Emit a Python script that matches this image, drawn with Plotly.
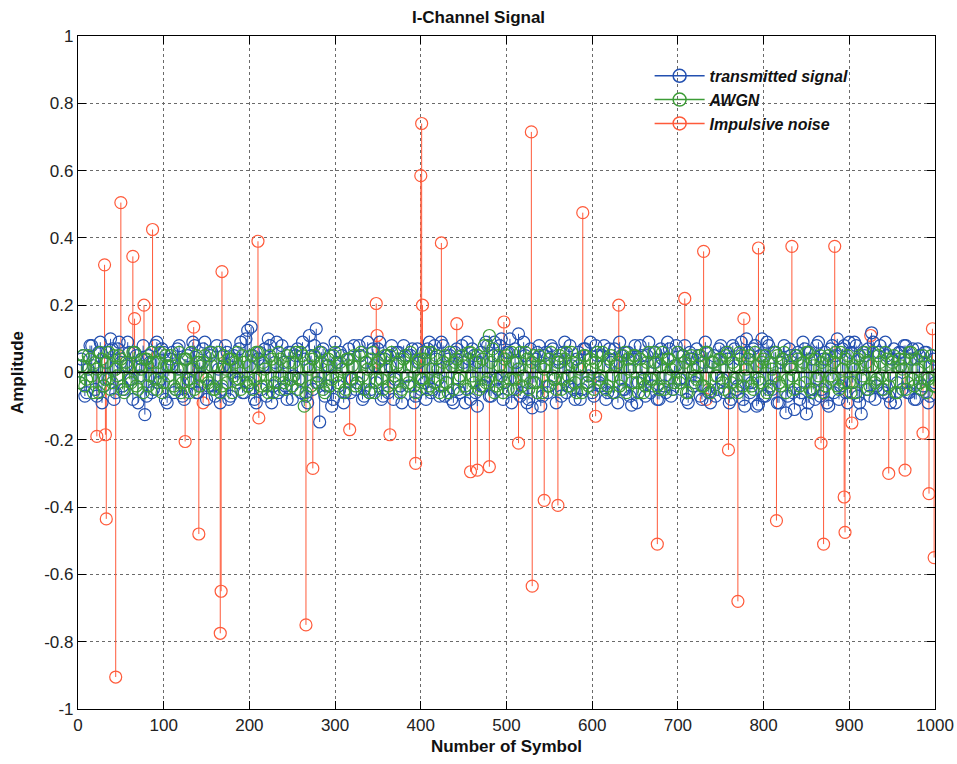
import plotly.graph_objects as go

# ---------------- data ----------------
# transmitted signal, read in two interleaved passes (symbols 2,6,10,... and 4,8,12,...)
blue_symbols_a = list(range(2, 1001, 4))
blue_values_a = [
    -0.03, 0.05, -0.06, 0.08, 0.02, -0.07, 0.09, -0.04, 0.06, 0.10,
    -0.08, 0.07, 0.03, -0.05, 0.09, -0.02, 0.06, -0.09, 0.04, -0.125,
    0.05, -0.06, 0.08, -0.03, 0.07, -0.08, 0.02, 0.06, -0.05, 0.08,
    -0.07, 0.04, -0.02, 0.09, -0.06, 0.03, 0.07, -0.08, 0.05, -0.04,
    0.08, -0.09, 0.02, 0.06, -0.07, 0.05, -0.03, 0.09, -0.06, 0.125,
    0.135, -0.08, 0.04, -0.05, 0.07, 0.10, -0.09, 0.03, -0.06, 0.08,
    -0.04, 0.06, -0.08, 0.05, -0.02, 0.09, -0.07, 0.11, -0.05, 0.13,
    -0.147, 0.07, -0.04, 0.05, -0.08, 0.03, 0.06, -0.09, 0.04, -0.06,
    0.08, -0.03, 0.05, -0.07, 0.09, -0.05, 0.02, 0.07, -0.08, 0.04,
    -0.06, 0.08, -0.02, 0.06, -0.09, 0.05, -0.04, 0.07, -0.07, 0.03,
    0.06, -0.08, 0.09, -0.05, 0.04, -0.07, 0.08, -0.03, 0.05, -0.09,
    0.07, -0.06, 0.03, 0.09, -0.08, 0.05, -0.10, 0.06, -0.04, 0.08,
    -0.07, 0.09, -0.05, 0.10, -0.03, 0.06, -0.09, 0.07, 0.115, -0.06,
    0.05, -0.08, -0.105, 0.04, 0.08, -0.07, 0.06, -0.04, 0.07, -0.09,
    0.03, 0.06, -0.06, 0.08, -0.05, 0.04, -0.08, 0.07, -0.03, 0.09,
    -0.07, 0.05, -0.04, 0.08, -0.06, 0.03, 0.07, -0.09, 0.05, -0.05,
    0.06, -0.097, 0.08, -0.03, 0.05, -0.07, 0.09, -0.04, 0.06, -0.08,
    0.04, -0.06, 0.07, -0.05, 0.08, -0.02, 0.05, -0.08, 0.06, -0.04,
    0.07, -0.07, 0.03, 0.06, -0.09, 0.05, -0.05, 0.08, -0.06, 0.04,
    -0.08, 0.07, -0.04, 0.09, -0.10, 0.06, -0.03, 0.08, -0.094, 0.10,
    -0.07, 0.08, -0.05, 0.06, -0.09, 0.04, -0.12, 0.07, -0.06, 0.05,
    -0.08, 0.09, -0.123, 0.06, -0.05, 0.08, -0.07, 0.04, -0.09, 0.07,
    -0.06, 0.10, -0.04, 0.08, -0.09, 0.06, 0.09, -0.07, -0.123, 0.05,
    0.07, 0.118, -0.08, 0.06, -0.05, 0.09, -0.07, 0.04, -0.09, 0.06,
    -0.05, 0.08, -0.06, 0.07, -0.08, 0.05, -0.04, 0.06, -0.07, 0.04,
]
blue_symbols_b = list(range(4, 1001, 4))
blue_values_b = [
    0.04, -0.07, 0.01, 0.08, -0.05, 0.06, -0.09, 0.03, -0.02, 0.07,
    -0.06, 0.09, -0.04, 0.02, 0.06, -0.08, 0.05, -0.01, 0.08, -0.07,
    0.03, -0.05, 0.09, -0.02, 0.06, -0.09, 0.04, -0.06, 0.07, 0.01,
    -0.08, 0.05, -0.03, 0.08, -0.06, 0.02, 0.09, -0.04, 0.06, -0.07,
    0.01, -0.05, 0.08, -0.08, 0.04, -0.02, 0.07, -0.06, 0.10, -0.03,
    0.05, -0.09, 0.06, 0.02, -0.07, 0.08, -0.04, 0.09, -0.05, 0.03,
    -0.08, 0.06, -0.01, 0.07, -0.06, 0.04, -0.09, 0.05, 0.08, -0.03,
    0.06, -0.07, 0.02, -0.10, 0.09, -0.04, 0.05, -0.06, 0.07, -0.02,
    -0.05, 0.08, -0.08, 0.03, -0.06, 0.07, -0.03, 0.09, -0.07, 0.05,
    0.02, -0.08, 0.06, -0.04, 0.08, -0.01, 0.05, -0.09, 0.07, -0.05,
    -0.03, 0.07, -0.06, 0.08, -0.02, 0.09, -0.07, 0.04, -0.08, 0.06,
    -0.05, 0.08, -0.09, 0.04, 0.07, -0.06, 0.03, -0.04, 0.09, -0.07,
    0.05, -0.02, 0.08, -0.08, 0.06, 0.10, -0.05, 0.03, -0.07, 0.09,
    -0.09, 0.07, -0.03, 0.06, -0.10, 0.05, -0.06, 0.08, -0.02, 0.04,
    -0.07, 0.09, -0.04, 0.02, -0.08, 0.06, -0.05, 0.07, -0.01, -0.06,
    0.08, -0.03, 0.05, -0.08, 0.07, -0.06, 0.02, 0.09, -0.05, 0.06,
    -0.07, 0.04, -0.09, 0.08, -0.02, 0.05, -0.06, 0.03, -0.08, 0.07,
    -0.04, 0.09, -0.07, 0.02, 0.06, -0.05, 0.08, -0.09, 0.04, -0.03,
    0.05, -0.08, 0.09, -0.06, 0.03, -0.07, 0.07, -0.02, 0.06, -0.09,
    0.08, -0.05, 0.04, -0.08, 0.10, -0.06, 0.07, -0.10, 0.05, -0.07,
    0.09, -0.04, 0.06, -0.09, 0.03, 0.08, -0.07, 0.05, -0.11, 0.06,
    -0.06, 0.07, -0.09, 0.04, -0.08, 0.09, -0.05, 0.06, -0.10, 0.08,
    0.05, -0.08, 0.07, -0.06, 0.09, -0.03, 0.08, -0.09, 0.06, -0.05,
    -0.07, 0.09, -0.04, 0.08, -0.06, 0.05, -0.09, 0.07, -0.03, 0.06,
    0.08, -0.06, 0.04, -0.08, 0.07, -0.05, 0.06, -0.09, 0.05, -0.03,
]

# AWGN, read in two interleaved passes (symbols 4,8,12,... and 2,6,10,...)
green_symbols_a = list(range(4, 1001, 4))
green_values_a = [
    0.02, -0.04, 0.05, -0.01, 0.03, -0.06, 0.04, -0.02, 0.06, -0.03,
    0.01, 0.05, -0.05, 0.03, -0.02, 0.06, -0.04, 0.02, -0.06, 0.04,
    -0.01, 0.03, -0.05, 0.06, -0.03, 0.02, 0.05, -0.04, 0.01, -0.06,
    0.04, -0.02, 0.06, -0.05, 0.03, -0.01, 0.05, -0.03, 0.02, -0.05,
    0.06, -0.04, 0.01, 0.04, -0.06, 0.03, -0.02, 0.05, -0.03, 0.02,
    -0.05, 0.06, -0.01, 0.03, -0.04, 0.05, -0.06, 0.02, 0.04, -0.03,
    0.05, -0.02, 0.03, -0.05, 0.06, -0.10, 0.02, -0.04, 0.05, -0.01,
    0.03, -0.06, 0.04, -0.02, 0.06, -0.03, 0.01, -0.05, 0.04, 0.02,
    -0.04, 0.05, -0.01, 0.03, -0.06, 0.06, -0.02, 0.04, -0.05, 0.01,
    0.05, -0.03, 0.02, -0.06, 0.04, -0.01, 0.06, -0.04, 0.03, -0.02,
    0.04, -0.05, 0.06, -0.03, 0.01, -0.04, 0.05, -0.06, 0.02, 0.03,
    -0.02, 0.05, -0.04, 0.06, -0.01, 0.03, -0.05, 0.04, -0.03, 0.11,
    0.07, -0.04, 0.02, -0.06, 0.05, -0.02, 0.03, -0.05, 0.06, -0.01,
    0.04, -0.03, 0.05, -0.06, 0.02, 0.01, -0.04, 0.06, -0.02, 0.03,
    -0.05, 0.04, -0.01, 0.06, -0.03, 0.02, -0.06, 0.05, -0.04, 0.01,
    0.03, -0.02, 0.06, -0.05, 0.04, -0.01, 0.02, -0.04, 0.05, -0.06,
    0.01, 0.05, -0.03, 0.04, -0.06, 0.03, -0.02, 0.06, -0.04, 0.02,
    -0.05, 0.04, 0.01, -0.03, 0.06, -0.02, 0.03, -0.06, 0.05, -0.01,
    0.02, -0.04, 0.06, -0.05, 0.03, -0.01, 0.04, -0.03, 0.05, -0.06,
    0.03, -0.02, 0.06, -0.04, 0.01, 0.05, -0.05, 0.02, -0.03, 0.04,
    -0.06, 0.03, -0.01, 0.05, -0.04, 0.06, -0.02, 0.01, -0.05, 0.04,
    0.02, -0.03, 0.06, -0.06, 0.04, -0.01, 0.03, -0.04, 0.05, -0.02,
    0.06, -0.05, 0.01, 0.04, -0.03, 0.02, -0.06, 0.05, -0.01, 0.03,
    -0.04, 0.06, -0.02, 0.03, -0.05, 0.04, -0.01, 0.05, -0.06, 0.02,
    0.04, -0.03, 0.06, -0.04, 0.01, -0.05, 0.03, -0.02, 0.05, -0.04,
]
green_symbols_b = list(range(2, 1001, 4))
green_values_b = [
    -0.03, 0.05, -0.02, 0.04, -0.06, 0.01, 0.06, -0.04, 0.03, -0.05,
    0.05, -0.01, 0.04, -0.06, 0.02, -0.03, 0.06, -0.05, 0.01, 0.04,
    -0.04, 0.06, -0.02, 0.03, -0.06, 0.05, -0.01, 0.02, -0.05, 0.06,
    -0.03, 0.04, -0.06, 0.01, 0.05, -0.04, 0.03, -0.02, 0.06, -0.05,
    0.02, -0.06, 0.05, -0.03, 0.04, -0.01, 0.06, -0.05, 0.03, -0.04,
    0.05, -0.02, 0.06, -0.04, 0.01, -0.06, 0.04, -0.03, 0.06, -0.01,
    -0.05, 0.03, -0.04, 0.06, -0.02, 0.05, -0.06, 0.01, 0.04, -0.03,
    0.06, -0.05, 0.02, -0.04, 0.05, -0.01, 0.03, -0.06, 0.04, -0.02,
    0.05, -0.03, 0.06, -0.05, 0.01, 0.04, -0.06, 0.03, -0.02, 0.05,
    -0.04, 0.06, -0.01, 0.03, -0.05, 0.05, -0.03, 0.02, -0.06, 0.04,
    -0.02, 0.06, -0.04, 0.01, 0.05, -0.06, 0.03, -0.03, 0.06, -0.05,
    0.04, -0.01, 0.02, -0.05, 0.06, -0.03, 0.05, -0.04, 0.08, -0.02,
    0.03, -0.06, 0.05, -0.01, 0.04, -0.05, 0.06, -0.02, 0.01, -0.04,
    0.06, -0.05, 0.03, -0.03, 0.05, -0.06, 0.02, 0.04, -0.01, -0.05,
    0.05, -0.02, 0.06, -0.04, 0.03, -0.06, 0.01, 0.05, -0.03, 0.04,
    -0.05, 0.06, -0.01, 0.02, -0.04, 0.05, -0.06, 0.03, -0.02, 0.06,
    0.04, -0.03, 0.05, -0.06, 0.01, -0.04, 0.06, -0.02, 0.03, -0.05,
    0.06, -0.01, 0.04, -0.05, 0.02, -0.03, 0.05, -0.06, 0.04, 0.01,
    -0.02, 0.05, -0.04, 0.06, -0.06, 0.03, -0.01, 0.04, -0.05, 0.06,
    -0.03, 0.02, -0.06, 0.05, -0.01, 0.04, -0.04, 0.06, -0.02, 0.03,
    0.05, -0.05, 0.01, 0.06, -0.03, 0.04, -0.06, 0.02, -0.01, 0.05,
    -0.04, 0.03, 0.06, -0.05, 0.02, -0.02, 0.05, -0.06, 0.04, -0.01,
    0.03, -0.04, 0.06, -0.03, 0.05, -0.06, 0.01, 0.04, -0.02, 0.06,
    -0.05, 0.02, -0.03, 0.05, -0.01, 0.06, -0.04, 0.03, -0.06, 0.04,
    0.01, -0.05, 0.06, -0.02, 0.04, -0.03, 0.05, -0.06, 0.02, -0.04,
]

impulse_symbols = [
    22, 31, 32, 33, 44, 50, 64, 66, 77, 87,
    125, 135, 141, 146, 166, 167, 168, 210, 211, 266,
    274, 317, 348, 349, 364, 394, 400, 401, 402, 424,
    442, 458, 466, 480, 497, 514, 529, 530, 544, 560,
    589, 604, 631, 676, 708, 730, 733, 759, 770, 777,
    794, 815, 833, 867, 870, 883, 894, 895, 903, 925,
    946, 965, 986, 993, 997, 999,
]
impulse_values = [
    -0.19, 0.32, -0.185, -0.435, -0.905, 0.505, 0.345, 0.16, 0.20, 0.425,
    -0.205, 0.135, -0.48, -0.09, -0.775, -0.65, 0.30, 0.39, -0.135, -0.75,
    -0.285, -0.17, 0.205, 0.11, -0.185, -0.27, 0.585, 0.74, 0.20, 0.385,
    0.145, -0.295, -0.29, -0.28, 0.15, -0.21, 0.715, -0.635, -0.38, -0.395,
    0.475, -0.13, 0.20, -0.51, 0.22, 0.36, -0.08, -0.23, -0.68, 0.16,
    0.37, -0.44, 0.375, -0.21, -0.51, 0.375, -0.37, -0.475, -0.15, 0.11,
    -0.30, -0.29, -0.18, -0.36, 0.13, -0.55,
]

x_ticks = [0, 100, 200, 300, 400, 500, 600, 700, 800, 900, 1000]
y_ticks = [-1, -0.8, -0.6, -0.4, -0.2, 0, 0.2, 0.4, 0.6, 0.8, 1]
y_tick_text = ["-1", "-0.8", "-0.6", "-0.4", "-0.2", "0", "0.2", "0.4", "0.6", "0.8", "1"]

series_names = ["transmitted signal", "AWGN", "Impulsive noise"]
BLUE = "#2350b0"
GREEN = "#3c9c36"
RED = "#ff5a3a"

FONT = "Liberation Sans, Arial, sans-serif"

fig = go.Figure()


def add_stem(xs, ys, color, name, stem_width=1):
    sx, sy = [], []
    for x, y in zip(xs, ys):
        sx += [x, x, None]
        sy += [0, y, None]
    fig.add_trace(go.Scatter(x=sx, y=sy, mode="lines",
                             line=dict(color=color, width=stem_width),
                             showlegend=False, hoverinfo="skip"))
    fig.add_trace(go.Scatter(x=xs, y=ys, mode="markers", name=name,
                             marker=dict(symbol="circle-open", size=12,
                                         color=color, line=dict(width=1.2, color=color)),
                             showlegend=False))


blue_x = blue_symbols_a + blue_symbols_b
blue_y = blue_values_a + blue_values_b
green_x = green_symbols_a + green_symbols_b
green_y = green_values_a + green_values_b

add_stem(impulse_symbols, impulse_values, RED, series_names[2])
add_stem(blue_x, blue_y, BLUE, series_names[0])
add_stem(green_x, green_y, GREEN, series_names[1])

# legend entries (line + open circle, like MATLAB stem legend)
for name, color in zip(series_names, [BLUE, GREEN, RED]):
    fig.add_trace(go.Scatter(x=[None], y=[None], mode="lines+markers",
                             name="<b><i>" + name + "</i></b>",
                             line=dict(color=color, width=1.5),
                             marker=dict(symbol="circle-open", size=13,
                                         color=color, line=dict(width=1.5, color=color))))

# stem baseline
fig.add_shape(type="line", xref="x", yref="y", x0=0, x1=1000, y0=0, y1=0,
              line=dict(color="black", width=1.5), layer="above")

axis_common = dict(
    showline=True, linecolor="black", linewidth=1.2, mirror="ticks",
    ticks="inside", ticklen=8, tickcolor="black",
    showgrid=True, gridcolor="#6a6a6a", griddash="dot", gridwidth=1,
    zeroline=False, automargin=False,
    tickfont=dict(family=FONT, size=17, color="#222"),
)

fig.update_layout(
    width=957, height=764,
    margin=dict(l=78, r=22, t=36, b=55),
    paper_bgcolor="white", plot_bgcolor="white",
    title=dict(text="<b>I-Channel Signal</b>", x=0.5, xanchor="center",
               y=0.985, yanchor="top",
               font=dict(family=FONT, size=17, color="#111")),
    xaxis=dict(range=[0, 1000], tickvals=x_ticks,
               title=dict(text="<b>Number of Symbol</b>", standoff=6,
                          font=dict(family=FONT, size=17, color="#111")),
               **axis_common),
    yaxis=dict(range=[-1, 1], tickvals=y_ticks, ticktext=y_tick_text,
               title=dict(text="<b>Amplitude</b>", standoff=16,
                          font=dict(family=FONT, size=17, color="#111")),
               **axis_common),
    legend=dict(x=0.667, y=0.966, xanchor="left", yanchor="top",
                bgcolor="rgba(255,255,255,0)", borderwidth=0,
                font=dict(family=FONT, size=16, color="#111"),
                itemwidth=50, tracegroupgap=0),
    showlegend=True,
)

fig.write_html("out.html")
